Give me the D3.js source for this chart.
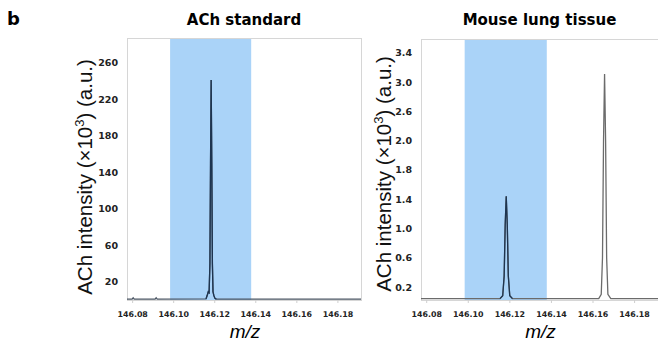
<!DOCTYPE html>
<html>
<head>
<meta charset="utf-8">
<script src="https://cdn.jsdelivr.net/npm/d3@7"></script>
<style>
  body { margin: 0; background: #fff; }
  svg { display: block; }
</style>
</head>
<body>
<div id="chart"></div>
<script>
// x ticks (m/z), shared by both panels
var mzTicks = [146.08, 146.10, 146.12, 146.14, 146.16, 146.18];
var mzDomain = [146.0775, 146.1915];
var shadeRange = [146.0985, 146.138];

// left panel : ACh standard
var stdTicks = [20, 60, 100, 140, 180, 220, 260];
var stdMz = [146.0775, 146.0800, 146.0805, 146.0810, 146.0912, 146.0917, 146.0922,
  146.1160, 146.1167, 146.1171, 146.1175, 146.1179, 146.1182, 146.1185, 146.1188,
  146.1191, 146.1194, 146.1198, 146.1203, 146.1210, 146.1915];
var stdInt = [1, 1, 2.5, 1, 1, 2.5, 1,
  1.2, 6, 9, 8, 40, 150, 241, 150,
  40, 9, 5, 2, 1, 1];

// right panel : Mouse lung tissue
var lungTicks = [0.2, 0.6, 1.0, 1.4, 1.8, 2.2, 2.6, 3.0, 3.4];
var lungTickLabels = ["0.2", "0.6", "1.0", "1.4", "1.8", "2.0", "2.6", "3.0", "3.4"];
var lungMz = [146.0775, 146.1155, 146.1168, 146.1175, 146.1180, 146.1185, 146.1190,
  146.1195, 146.1202, 146.1215, 146.1630, 146.1642, 146.1648, 146.1653, 146.1658,
  146.1663, 146.1668, 146.1674, 146.1688, 146.1915];
var lungInt = [0.04, 0.04, 0.08, 0.35, 1.05, 1.44, 1.05,
  0.35, 0.08, 0.04, 0.04, 0.1, 0.6, 2.2, 3.11,
  2.2, 0.6, 0.1, 0.04, 0.04];

var W = 658, H = 344;
var svg = d3.select("#chart").append("svg")
  .attr("width", W).attr("height", H);

svg.append("text")
  .attr("x", 7).attr("y", 25)
  .style("font-family", "DejaVu Sans, sans-serif")
  .style("font-weight", "bold")
  .style("font-size", "18px")
  .text("b");

function panel(opt) {
  var x = d3.scaleLinear().domain(mzDomain).range([opt.left, opt.right]);
  var y = d3.scaleLinear().domain(opt.yDomain).range([opt.bottom, opt.top]);
  var g = svg.append("g");

  // blue window
  g.append("rect")
    .attr("x", x(shadeRange[0]))
    .attr("y", opt.top)
    .attr("width", x(shadeRange[1]) - x(shadeRange[0]))
    .attr("height", opt.bottom - opt.top)
    .style("fill", "#aad3f8");

  // frame
  g.append("rect")
    .attr("x", opt.left + 0.5).attr("y", opt.top + 0.5)
    .attr("width", opt.right - opt.left).attr("height", opt.bottom - opt.top)
    .style("fill", "none")
    .style("stroke", "#d6d6d6");

  // x axis
  var xa = g.append("g")
    .attr("transform", "translate(0," + opt.bottom + ")")
    .call(d3.axisBottom(x).tickValues(mzTicks).tickFormat(d3.format(".2f"))
      .tickSizeInner(3).tickSizeOuter(0).tickPadding(8));
  xa.select(".domain").remove();
  xa.selectAll("line").style("stroke", "#cfcfcf");
  xa.selectAll("text")
    .style("font-family", "DejaVu Sans, sans-serif")
    .style("font-weight", "bold")
    .style("font-size", "7.9px")
    .style("fill", "#222");

  // y axis
  var ya = g.append("g")
    .attr("transform", "translate(" + opt.left + ",0)")
    .call(d3.axisLeft(y).tickValues(opt.ticks)
      .tickFormat(function (d, i) { return opt.labels[i]; })
      .tickSize(0).tickPadding(9));
  ya.select(".domain").remove();
  ya.selectAll("text")
    .style("font-family", "DejaVu Sans, sans-serif")
    .style("font-weight", "bold")
    .style("font-size", "9.5px")
    .style("fill", "#222");

  // spectrum
  var pts = opt.mz.map(function (m, i) { return [m, opt.int[i]]; });
  var line = d3.line().x(function (d) { return x(d[0]); }).y(function (d) { return y(d[1]); });
  g.append("path")
    .datum(pts)
    .attr("d", line)
    .style("fill", "none")
    .style("stroke", opt.lineColor)
    .style("stroke-width", 1.3);

  // part inside the window drawn darker
  g.append("path")
    .datum(pts.filter(function (d) { return d[0] >= shadeRange[0] && d[0] <= shadeRange[1]; }))
    .attr("d", line)
    .style("fill", "none")
    .style("stroke", "#1d3450")
    .style("stroke-width", 1.3);

  // title
  g.append("text")
    .attr("x", (opt.left + opt.right) / 2).attr("y", 25)
    .attr("text-anchor", "middle")
    .style("font-family", "DejaVu Sans, sans-serif")
    .style("font-weight", "bold")
    .style("font-size", "15px")
    .text(opt.title);

  // x label
  g.append("text")
    .attr("x", (opt.left + opt.right) / 2 + 1).attr("y", 338)
    .attr("text-anchor", "middle")
    .style("font-family", "Liberation Sans, Arial, sans-serif")
    .style("font-style", "italic")
    .style("font-size", "19px")
    .text("m/z");

  // y label
  var yl = g.append("text")
    .attr("transform", "translate(" + opt.ylabelX + "," + opt.ylabelY + ") rotate(-90)")
    .attr("text-anchor", "middle")
    .style("font-family", "Liberation Sans, Arial, sans-serif")
    .style("font-size", "20.5px")
    .style("fill", "#111");
  yl.append("tspan").text("ACh intensity (×10");
  yl.append("tspan").attr("dy", -8).style("font-size", "13px").text("3");
  yl.append("tspan").attr("dy", 8).text(") (a.u.)");
}

panel({
  left: 127, right: 361, top: 38, bottom: 300,
  yDomain: [0, 287], ticks: stdTicks, labels: stdTicks.map(String),
  mz: stdMz, int: stdInt, lineColor: "#4a5563",
  title: "ACh standard", ylabelX: 92, ylabelY: 177
});

panel({
  left: 421, right: 658, top: 39, bottom: 300,
  yDomain: [0.022, 3.59], ticks: lungTicks, labels: lungTickLabels,
  mz: lungMz, int: lungInt, lineColor: "#6b6b6b",
  title: "Mouse lung tissue", ylabelX: 391, ylabelY: 174
});
</script>
</body>
</html>
